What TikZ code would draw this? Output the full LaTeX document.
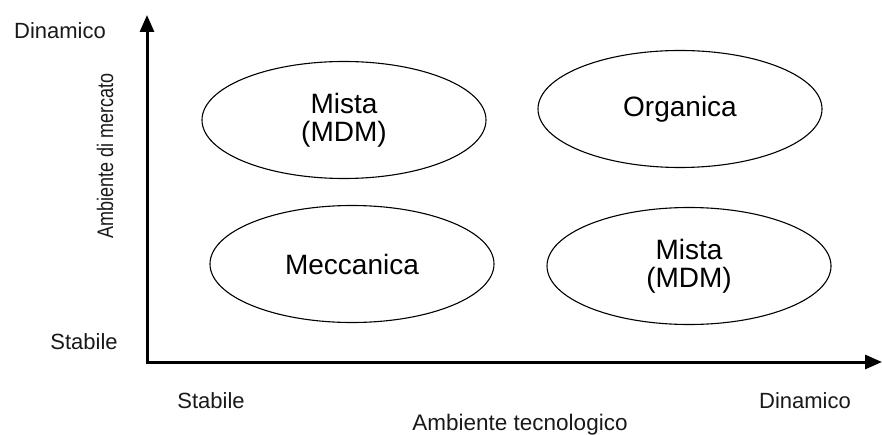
\documentclass[tikz,border=0pt]{standalone}
\usepackage{fontspec}
\setmainfont{Liberation Sans}
\usepackage{tikz}
\usetikzlibrary{arrows.meta}
\usetikzlibrary{positioning}
\usetikzlibrary{shapes.geometric}
\tikzstyle{typenode} = [draw, ellipse, line width=1.1pt, minimum width=284pt, minimum height=117pt, inner sep=0pt, align=center, font=\fontsize{28}{28}\selectfont]
\tikzstyle{ticklabel} = [font=\fontsize{22}{22}\selectfont, text=black!90]
\tikzstyle{axistitle} = [font=\fontsize{22.5}{22.5}\selectfont, text=black!90]
\tikzstyle{axis} = [line width=3pt, -{Triangle[length=17pt,width=14pt]}]

\begin{document}
\begin{tikzpicture}[x=1pt, y=1pt]
  \useasboundingbox (0,0) rectangle (882,434);

  \coordinate (o) at (147,72);
  \coordinate (ytop) at (147,419);
  \coordinate (xend) at (882,72);

  \draw[axis] ([yshift=-1.5pt]o) -- (ytop);
  \draw[axis] ([xshift=-1.5pt]o) -- (xend);

  \node[typenode] (mdm_a) at (344,314) {Mista\\(MDM)};
  \node[typenode] (organica) at (680,325) {Organica};
  \node[typenode] (meccanica) at (352,170) {Meccanica};
  \node[typenode] (mdm_b) at (689,168) {Mista\\(MDM)};

  \node[ticklabel] (y_din) at (60,403) {Dinamico};
  \node[ticklabel] (y_stab) at (84,92) {Stabile};
  \node[ticklabel] (x_stab) at (211,33) {Stabile};
  \node[ticklabel] (x_din) at (805,33) {Dinamico};

  \node[axistitle] (x_title) at (520,9) {Ambiente tecnologico};
  \node[axistitle, rotate=90, xscale=0.8] (y_title) at (105,278) {Ambiente di mercato};
\end{tikzpicture}
\end{document}
